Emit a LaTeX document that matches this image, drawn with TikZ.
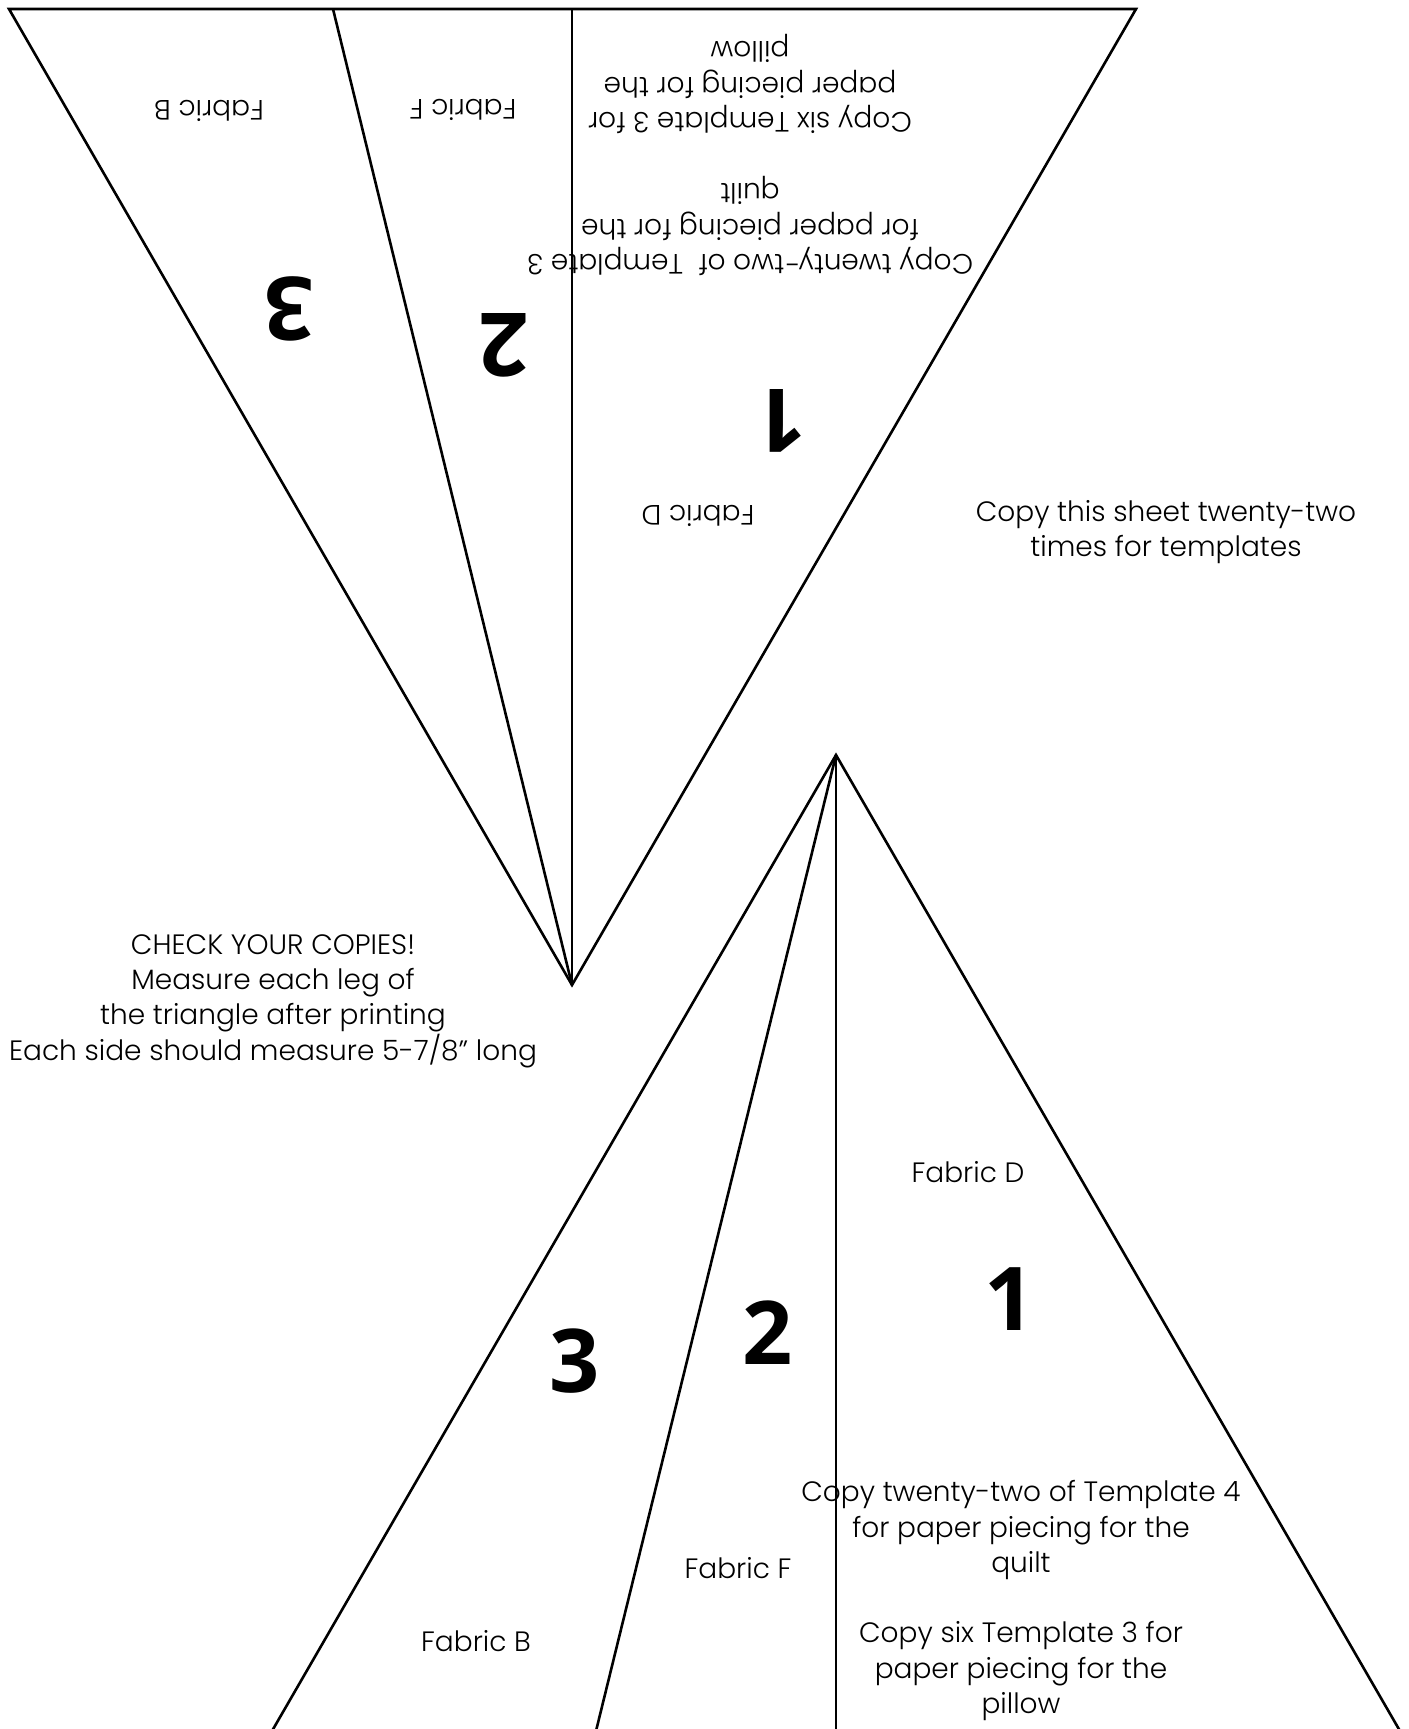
\documentclass[tikz,border=0pt]{standalone}
\usepackage{fontspec}
\setmainfont{Poppins}[UprightFont=* Light]
\newfontfamily\numfont{Open Sans}
\begin{document}
\begin{tikzpicture}[x=0.5pt, y=-0.5pt,
    cut/.style={line width=1.3pt, line join=miter},
    note/.style={align=center, inner sep=0pt, font=\fontsize{14}{17.7}\selectfont},
    piece/.style={inner sep=0pt, font=\numfont\bfseries\fontsize{44}{44}\selectfont},
    flip/.style={rotate=180}]
    \useasboundingbox (0,0) rectangle (1408,1729);
    \clip (0,0) rectangle (1408,1729);

    % Upper template (upside down)
    \coordinate (tl) at (9,9);
    \coordinate (tr) at (1136,9);
    \coordinate (ta) at (572,985);
    \coordinate (tm) at (572,9);
    \coordinate (td) at (333,9);
    \draw[cut] (tl) -- (tr) -- (ta) -- cycle;
    \draw[cut] (td) -- (ta);
    \draw[cut] (tm) -- (ta);

    % Lower template
    \coordinate (ba) at (836,755);
    \coordinate (bl) at (272,1731);
    \coordinate (br) at (1400,1731);
    \coordinate (bm) at (836,1731);
    \coordinate (bd) at (596,1731);
    \draw[cut] (bl) -- (ba) -- (br);
    \draw[cut] (bd) -- (ba);
    \draw[cut] (bm) -- (ba);

    % Labels, upper template
    \node[note, flip] (tfb) at (209,111) {Fabric B};
    \node[note, flip] (tff) at (463,110) {Fabric F};
    \node[note, flip] (tpillow) at (750,84) {Copy six Template 3 for\\paper piecing for the\\pillow};
    \node[note, flip] (tquilt) at (750,226) {Copy twenty-two of~ Template 3\\for paper piecing for the\\quilt};
    \node[piece, flip] (t3) at (289,309) {3};
    \node[piece, flip] (t2) at (504,345) {2};
    \node[piece, flip] (t1) at (781,421) {1};
    \node[note, flip] (tfd) at (698,516) {Fabric D};

    % Sheet notes
    \node[note] (sheet) at (1166,532) {Copy this sheet twenty-two\\times for templates};
    \node[note] (check) at (273,1001) {CHECK YOUR COPIES!\\Measure each leg of\\the triangle after printing\\Each side should measure 5-7/8” long};

    % Labels, lower template
    \node[note] (bfd) at (968,1172) {Fabric D};
    \node[piece] (b1) at (1010,1299) {1};
    \node[piece] (b2) at (768,1333) {2};
    \node[piece] (b3) at (575,1361) {3};
    \node[note] (bquilt) at (1021,1530) {Copy twenty-two of Template 4\\for paper piecing for the\\quilt};
    \node[note] (bff) at (738,1568) {Fabric F};
    \node[note] (bfb) at (476,1641) {Fabric B};
    \node[note] (bpillow) at (1021,1671) {Copy six Template 3 for\\paper piecing for the\\pillow};
\end{tikzpicture}
\end{document}
